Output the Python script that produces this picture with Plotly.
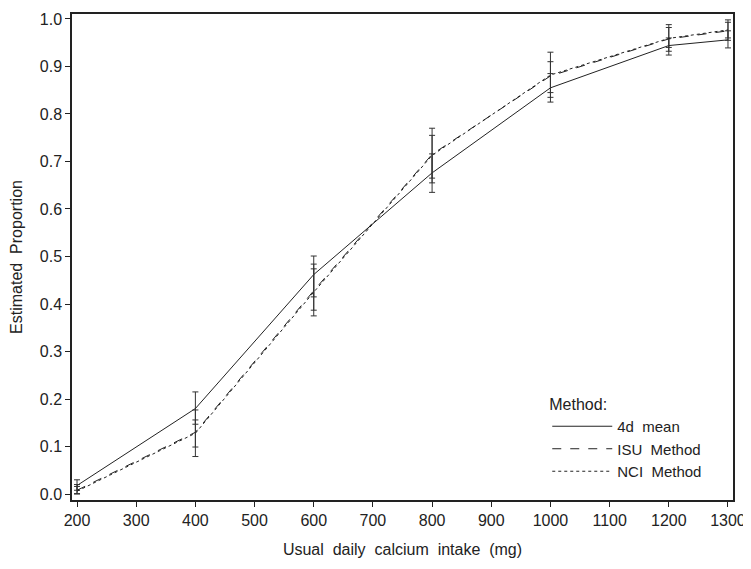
import plotly.graph_objects as go

intake = [200, 400, 600, 800, 1000, 1200, 1300]

mean4d = [0.018, 0.180, 0.462, 0.676, 0.855, 0.944, 0.956]
mean4d_lo = [0.008, 0.147, 0.415, 0.635, 0.825, 0.924, 0.939]
mean4d_hi = [0.030, 0.215, 0.501, 0.716, 0.885, 0.960, 0.975]

isu = [0.008, 0.130, 0.428, 0.715, 0.880, 0.958, 0.975]
isu_lo = [0.001, 0.079, 0.375, 0.655, 0.835, 0.932, 0.955]
isu_hi = [0.020, 0.177, 0.484, 0.770, 0.930, 0.988, 0.998]

nci = [0.006, 0.128, 0.425, 0.713, 0.882, 0.959, 0.977]
nci_lo = [0.000, 0.099, 0.387, 0.665, 0.845, 0.940, 0.960]
nci_hi = [0.016, 0.156, 0.474, 0.755, 0.910, 0.982, 0.993]

names = ["4d  mean", "ISU  Method", "NCI  Method"]
dashes = ["solid", "dash", "dot"]

fig = go.Figure()
for name, dash, y, lo, hi in zip(names, dashes,
                                 [mean4d, isu, nci],
                                 [mean4d_lo, isu_lo, nci_lo],
                                 [mean4d_hi, isu_hi, nci_hi]):
    fig.add_trace(go.Scatter(
        x=intake, y=y, mode="lines", name=name,
        line=dict(color="#222222", width=1, dash=dash),
        error_y=dict(type="data", symmetric=False,
                     array=[h - v for h, v in zip(hi, y)],
                     arrayminus=[v - l for l, v in zip(lo, y)],
                     color="#333333", thickness=1, width=3),
    ))

font = "Liberation Sans, Arial, Helvetica, sans-serif"
# the page body has an 8px default margin, so the figure is sized to fit the window
fig.update_layout(
    width=743, height=561,
    margin=dict(l=64, r=18, t=6, b=69),
    paper_bgcolor="white", plot_bgcolor="white",
    font=dict(family=font, size=16, color="#222222"),
    showlegend=True,
    legend=dict(
        title=dict(text="Method:", font=dict(size=16)),
        x=0.719, y=0.228, xanchor="left", yanchor="top",
        bgcolor="rgba(0,0,0,0)", borderwidth=0,
        font=dict(size=15), itemwidth=60, tracegroupgap=0,
    ),
    xaxis=dict(
        range=[191.5, 1308.5], tickvals=[200, 300, 400, 500, 600, 700, 800, 900, 1000, 1100, 1200, 1300],
        showgrid=False, zeroline=False, showline=True, linecolor="#222222", linewidth=1.5,
        mirror=True, ticks="outside", ticklen=5, tickcolor="#222222", automargin=False,
        tickfont=dict(size=16), ticklabeloverflow="allow",
        title=dict(text="Usual  daily  calcium  intake  (mg)", standoff=16, font=dict(size=16)),
    ),
    yaxis=dict(
        range=[-0.0125, 1.0104], tickvals=[0, 0.1, 0.2, 0.3, 0.4, 0.5, 0.6, 0.7, 0.8, 0.9, 1.0],
        tickformat=".1f",
        showgrid=False, zeroline=False, showline=True, linecolor="#222222", linewidth=1.5,
        mirror=True, ticks="outside", ticklen=5, tickcolor="#222222", automargin=False,
        tickfont=dict(size=16), ticklabeloverflow="allow",
        title=dict(text="Estimated  Proportion", standoff=23, font=dict(size=16)),
    ),
)

fig.write_html("out.html")
